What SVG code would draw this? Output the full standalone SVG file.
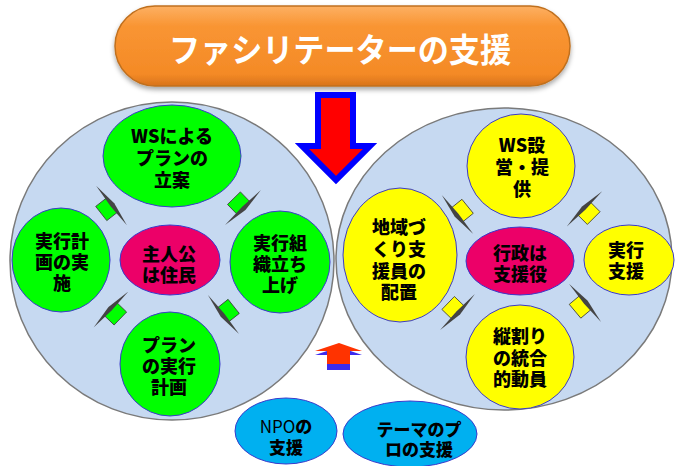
<svg xmlns="http://www.w3.org/2000/svg" width="675" height="466" viewBox="0 0 675 466">
<defs>
<linearGradient id="gTitle" x1="0" y1="0" x2="0" y2="1">
<stop offset="0" stop-color="#fdb063"/>
<stop offset="0.25" stop-color="#f99533"/>
<stop offset="0.85" stop-color="#f48a26"/>
<stop offset="1" stop-color="#d8731c"/>
</linearGradient>
<filter id="shadow" x="-10%" y="-20%" width="120%" height="160%">
<feDropShadow dx="0" dy="3" stdDeviation="2.5" flood-color="#000" flood-opacity="0.35"/>
</filter>
<g id="arrowG">
<rect x="-13" y="-9" width="13" height="18" fill="#00ff00" stroke="#3c3c3c" stroke-width="0.8"/>
<polygon points="0,-25 3.5,0 0,25 -1.2,0" fill="#444"/>
</g>
<g id="arrowY">
<rect x="-13" y="-9" width="13" height="18" fill="#ffff00" stroke="#3c3c3c" stroke-width="0.8"/>
<polygon points="0,-25 3.5,0 0,25 -1.2,0" fill="#444"/>
</g>
</defs>
<style>
.big{fill:#c6d9f1;stroke:#7a7a7a;stroke-width:1.5}
.green{fill:#00ff00;stroke:#3a3acc;stroke-width:1}
.yellow{fill:#ffff00;stroke:#3a3acc;stroke-width:1}
.mag{fill:#ec0068;stroke:#3a3acc;stroke-width:1}
.blue{fill:#00b0f0;stroke:#3a3acc;stroke-width:1}
.t{font-family:"Noto Sans CJK JP","Noto Sans",sans-serif;font-weight:900;font-size:18px;fill:#000;text-anchor:middle}
.tb{font-size:17px}
.title{font-family:"Noto Sans CJK JP","Noto Sans",sans-serif;font-weight:700;font-size:33px;fill:#fff;text-anchor:middle}
</style>
<rect width="675" height="466" fill="#fff"/>

<g id="title">
<rect x="115" y="6" width="455" height="80" rx="40" ry="40" fill="url(#gTitle)" stroke="#c0701f" stroke-width="1.5" filter="url(#shadow)"/>
<text class="title" x="340" y="62" textLength="342" lengthAdjust="spacingAndGlyphs">ファシリテーターの支援</text>
</g>

<g id="residents-circle">
<ellipse class="big" cx="172" cy="261" rx="162" ry="159"/>
</g>
<g id="admin-circle">
<ellipse class="big" cx="504" cy="259" rx="168" ry="151"/>
</g>

<g id="connectors">
<use href="#arrowG" transform="translate(111.5,205.5) rotate(-38)"/>
<use href="#arrowG" transform="translate(243,207.5) rotate(45.8)"/>
<use href="#arrowG" transform="translate(223.5,314.5) rotate(141.5)"/>
<use href="#arrowG" transform="translate(111,309.5) rotate(224)"/>
<use href="#arrowY" transform="translate(457.5,214.5) rotate(141)"/>
<use href="#arrowY" transform="translate(584.5,208.9) rotate(-135)"/>
<use href="#arrowY" transform="translate(457.5,312) rotate(44)"/>
<use href="#arrowY" transform="translate(585,302.9) rotate(-40)"/>
<polygon points="318,95 353,95 353,146 370,146 336,180 302,146 318,146" fill="#ff0000" stroke="#0000ff" stroke-width="6"/>
<polygon points="339,347 362,355 350,355 350,370 327,370 327,355 315,355" fill="#3b2bef"/>
<polygon points="339,343 362,351 350,351 350,364 327,364 327,351 315,351" fill="#ff3300"/>
</g>

<g id="ws-plan">
<ellipse class="green" cx="172" cy="156" rx="69" ry="51"/>
<text class="t" x="172" y="143">WSによる</text>
<text class="t" x="172" y="165">プランの</text>
<text class="t" x="172" y="187">立案</text>
</g>
<g id="implement">
<ellipse class="green" cx="61" cy="260" rx="49" ry="52"/>
<text class="t" x="62" y="248">実行計</text>
<text class="t" x="62" y="269">画の実</text>
<text class="t" x="62" y="290">施</text>
</g>
<g id="residents">
<ellipse class="mag" cx="170" cy="260" rx="50" ry="35"/>
<text class="t" x="169" y="261">主人公</text>
<text class="t" x="169" y="282">は住民</text>
</g>
<g id="organize">
<ellipse class="green" cx="280" cy="262" rx="50" ry="51"/>
<text class="t" x="280" y="250">実行組</text>
<text class="t" x="280" y="271">織立ち</text>
<text class="t" x="280" y="292">上げ</text>
</g>
<g id="plan-exec">
<ellipse class="green" cx="170" cy="364" rx="50" ry="52"/>
<text class="t" x="169" y="352">プラン</text>
<text class="t" x="169" y="373">の実行</text>
<text class="t" x="169" y="394">計画</text>
</g>

<g id="ws-provide">
<ellipse class="yellow" cx="521" cy="166" rx="54" ry="52"/>
<text class="t" x="522" y="152">WS設</text>
<text class="t" x="522" y="174">営・提</text>
<text class="t" x="522" y="196">供</text>
</g>
<g id="supporter">
<ellipse class="yellow" cx="400" cy="255" rx="57" ry="67"/>
<text class="t" x="399" y="234">地域づ</text>
<text class="t" x="399" y="256">くり支</text>
<text class="t" x="399" y="278">援員の</text>
<text class="t" x="399" y="299">配置</text>
</g>
<g id="admin">
<ellipse class="mag" cx="520" cy="261" rx="54" ry="34"/>
<text class="t" x="520" y="260">行政は</text>
<text class="t" x="520" y="281">支援役</text>
</g>
<g id="exec-support">
<ellipse class="yellow" cx="629" cy="260" rx="45" ry="35"/>
<text class="t" x="626" y="257">実行</text>
<text class="t" x="626" y="278">支援</text>
</g>
<g id="mobilize">
<ellipse class="yellow" cx="520" cy="357" rx="54" ry="52"/>
<text class="t" x="520" y="343">縦割り</text>
<text class="t" x="520" y="365">の統合</text>
<text class="t" x="520" y="386">的動員</text>
</g>

<g id="npo">
<ellipse class="blue" cx="286" cy="431" rx="51" ry="33"/>
<text class="t tb" x="286" y="433"><tspan font-weight="400">NPO</tspan>の</text>
<text class="t tb" x="286" y="454">支援</text>
</g>
<g id="theme-pro">
<ellipse class="blue" cx="410" cy="434" rx="67" ry="33"/>
<text class="t tb" x="419" y="436">テーマのプ</text>
<text class="t tb" x="419" y="456">ロの支援</text>
</g>
</svg>
